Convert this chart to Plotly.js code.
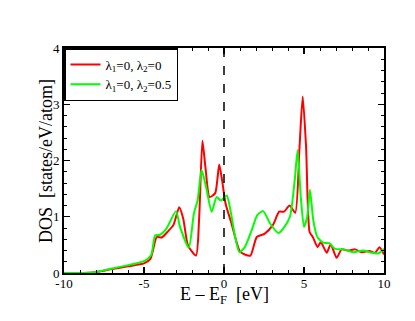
<!DOCTYPE html>
<html>
<head>
<meta charset="utf-8">
<script src="https://cdn.plot.ly/plotly-3.0.1.min.js"></script>
<style>
  body { margin: 0; background: #fff; }
  #dos { width: 415px; height: 321px; }
</style>
</head>
<body>
<div id="dos"></div>
<script>
// lambda1=0, lambda2=0
var energyA = [-10, -8.2, -7, -6, -5, -4.6, -4.2, -3.9, -3.5, -3.15, -2.8, -2.55, -2.25, -1.75, -1.55, -1.35, -1.15, -0.9, -0.55, -0.3, -0.12, 0.1, 0.45, 1.0, 1.3, 1.65, 2.05, 2.55, 3.05, 3.45, 3.75, 4.1, 4.45, 4.72, 4.92, 5.13, 5.35, 5.55, 5.85, 6.05, 6.42, 6.67, 7.04, 7.35, 7.77, 8.2, 8.6, 9.1, 9.45, 9.72, 10];
var dosA = [0, 0.01, 0.07, 0.12, 0.17, 0.25, 0.64, 0.63, 0.74, 0.86, 1.17, 0.97, 0.49, 0.31, 1.0, 2.35, 1.85, 1.35, 1.42, 1.93, 1.65, 1.23, 0.9, 0.38, 0.33, 0.31, 0.64, 0.70, 0.85, 1.09, 1.09, 1.2, 1.07, 2.24, 3.14, 2.24, 0.73, 0.64, 0.46, 0.55, 0.36, 0.51, 0.27, 0.42, 0.40, 0.42, 0.37, 0.39, 0.36, 0.46, 0.33];

// lambda1=0, lambda2=0.5
var energyB = [-10, -8.2, -7, -6, -5, -4.55, -4.3, -4.0, -3.6, -3.0, -2.75, -2.2, -1.88, -1.65, -1.4, -1.12, -0.77, -0.46, -0.2, 0.17, 0.38, 0.7, 0.96, 1.3, 1.73, 2.08, 2.45, 2.88, 3.4, 3.7, 4.12, 4.42, 4.6, 4.8, 5.0, 5.2, 5.37, 5.58, 5.83, 6.2, 6.58, 6.94, 7.46, 8.08, 8.7, 9.23, 9.65, 10];
var dosB = [0, 0.01, 0.08, 0.14, 0.21, 0.32, 0.67, 0.68, 0.79, 1.10, 0.82, 0.45, 1.06, 1.29, 1.83, 1.53, 1.09, 1.35, 1.29, 1.38, 1.15, 0.64, 0.37, 0.46, 0.76, 1.03, 1.10, 0.88, 0.71, 0.79, 1.0, 1.65, 2.18, 1.35, 0.82, 1.0, 1.48, 0.94, 0.64, 0.54, 0.53, 0.43, 0.42, 0.37, 0.40, 0.36, 0.35, 0.43];

var xTicks = [-10, -5, 0, 5, 10];
var xTickText = ['-10', '-5', '0', '5', '10'];
var yTicks = [0, 1, 2, 3, 4];
var fermiLevel = 0;

var serif = "'Liberation Serif', 'Times New Roman', Times, serif";

var trace1 = {
    x: energyA,
    y: dosA,
    type: 'scatter',
    mode: 'lines',
    name: '\u03bb<sub>1</sub>=0, \u03bb<sub>2</sub>=0',
    line: { color: '#ff0000', width: 2, shape: 'spline', smoothing: 0.6 }
};
var trace2 = {
    x: energyB,
    y: dosB,
    type: 'scatter',
    mode: 'lines',
    name: '\u03bb<sub>1</sub>=0, \u03bb<sub>2</sub>=0.5',
    line: { color: '#00ff00', width: 2, shape: 'spline', smoothing: 0.6 }
};

// shared axis styling (grace-like frame, inside ticks on all four sides)
function frameAxis(extra) {
    var ax = {
        ticks: 'inside',
        ticklen: 6,
        tickwidth: 1.2,
        tickcolor: '#000',
        showline: true,
        linecolor: '#000',
        linewidth: 2,
        mirror: 'allticks',
        showgrid: false,
        zeroline: false,
        tickfont: { family: serif, size: 13 },
        tickmode: 'array'
    };
    for (var k in extra) ax[k] = extra[k];
    return ax;
}

var layout = {
    width: 415,
    height: 321,
    margin: { l: 64, r: 31, t: 48, b: 48 },
    paper_bgcolor: '#fff',
    plot_bgcolor: '#fff',
    font: { family: serif, size: 13, color: '#000' },
    showlegend: true,
    legend: {
        x: 0, y: 1, xanchor: 'left', yanchor: 'top',
        bgcolor: '#fff',
        bordercolor: '#000',
        borderwidth: 1.5,
        font: { family: serif, size: 13 },
        tracegroupgap: 0
    },
    xaxis: frameAxis({
        range: [-10, 10],
        tickvals: xTicks,
        ticktext: xTickText,
        ticklabelstandoff: -3,
        minor: { dtick: 1, ticks: 'inside', ticklen: 3, tickwidth: 1, tickcolor: '#000' }
    }),
    yaxis: frameAxis({
        range: [0, 4],
        tickvals: yTicks,
        minor: { dtick: 0.2, ticks: 'inside', ticklen: 3, tickwidth: 1, tickcolor: '#000' }
    }),
    annotations: [
        {
            text: 'E \u2013 E<sub>F</sub>  [eV]',
            xref: 'paper', yref: 'paper', x: 0.5, y: -0.1,
            xanchor: 'center', yanchor: 'middle', showarrow: false,
            font: { family: serif, size: 18 }
        },
        {
            text: 'DOS  [states/eV/atom]',
            xref: 'paper', yref: 'paper', x: -0.058, y: 0.5,
            xanchor: 'center', yanchor: 'middle', showarrow: false, textangle: -90,
            font: { family: serif, size: 18 }
        }
    ],
    shapes: [{
        type: 'line',
        xref: 'x', yref: 'paper',
        x0: fermiLevel, x1: fermiLevel, y0: 0, y1: 1,
        line: { color: '#000', width: 1.5, dash: 'dash' }
    }]
};

Plotly.newPlot('dos', [trace1, trace2], layout, { displayModeBar: false, staticPlot: true });
</script>
</body>
</html>
